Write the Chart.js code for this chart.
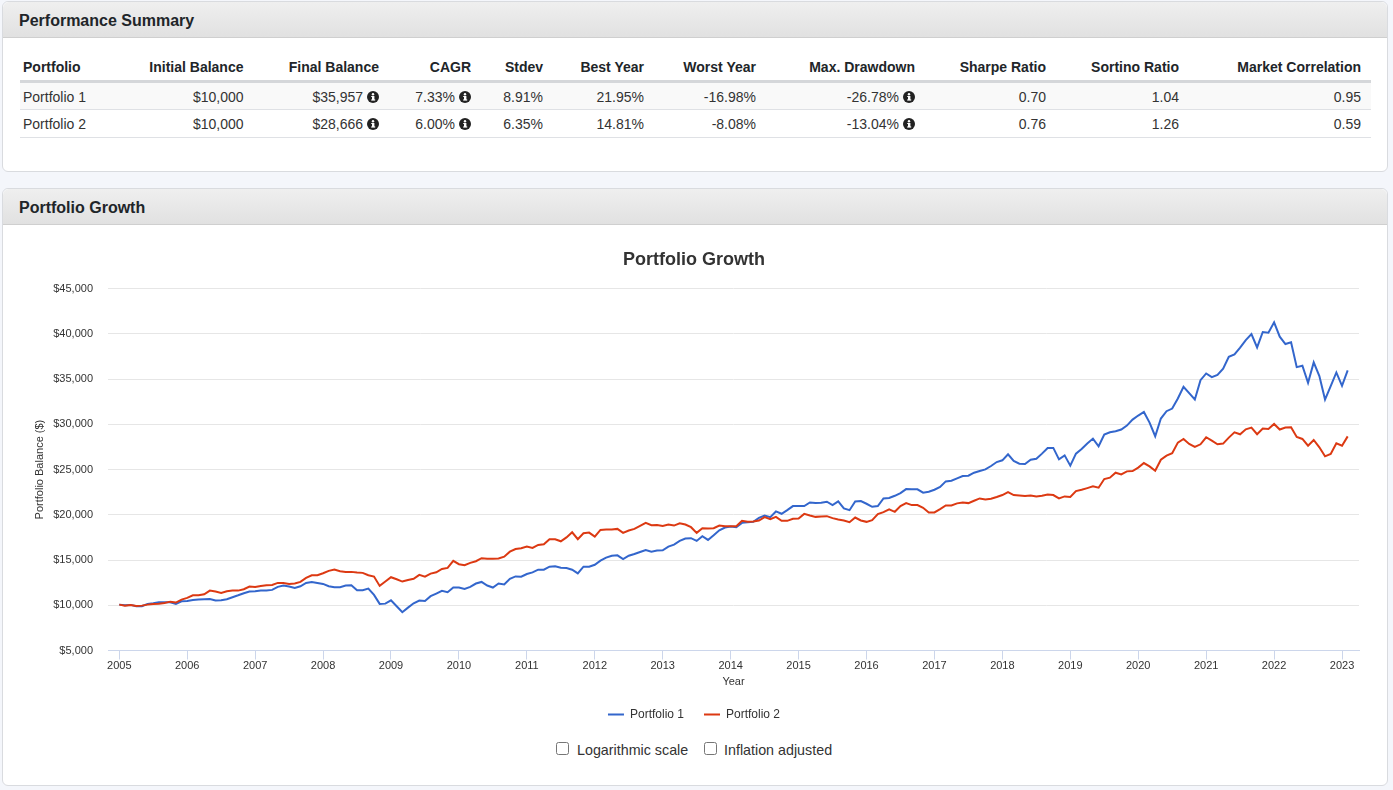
<!DOCTYPE html>
<html>
<head>
<meta charset="utf-8">
<title>Portfolio Growth</title>
<script src="https://cdn.jsdelivr.net/npm/chart.js@4"></script>
<style>
  html, body { margin: 0; padding: 0; background: #f4f6fb; font-family: "Liberation Sans", Arial, sans-serif; color: #212529; overflow: hidden; }
  .panel { position: absolute; left: 2px; width: 1384px; background: #fff; border: 1px solid #d9dbdf; border-radius: 6px; box-sizing: content-box; }
  .panel h2 { margin: 0; height: 35px; line-height: 38px; padding-left: 16px; font-size: 16px; font-weight: bold; background: linear-gradient(#efefef, #e1e1e1); border-bottom: 1px solid #cfcfcf; border-radius: 6px 6px 0 0; }
  #summary { top: 1px; height: 169px; }
  #growth { top: 188px; height: 596px; }
  table { position: absolute; left: 17px; top: 43px; width: 1351px; border-collapse: collapse; table-layout: fixed; font-size: 14px; }
  th, td { padding: 0 10px; text-align: right; white-space: nowrap; }
  th:first-child, td:first-child { text-align: left; padding-left: 3px; }
  th { height: 36px; font-weight: bold; vertical-align: bottom; padding-bottom: 5px; box-sizing: border-box; border-bottom: 3px solid #d5d7da; }
  td { height: 28px; padding-top: 2px; box-sizing: border-box; border-bottom: 1px solid #dfe1e5; color: #333; }
  tbody tr:first-child td { height: 28px; }
  tbody tr:first-child { background: #f9f9f9; }
  svg.info { width: 12px; height: 12px; margin-left: 4px; vertical-align: -1px; }
  #chart { position: absolute; left: 0; top: 36px; }
  .options { position: absolute; top: 742px; left: 0; }
  label { position: absolute; top: 0; font-size: 14.3px; line-height: 16px; white-space: nowrap; color: #333; }
  label input { position: absolute; left: 0; top: 0; margin: 0; width: 13px; height: 13px; }
  label span { position: absolute; top: 0; }
</style>
</head>
<body>
<div class="panel" id="summary">
  <h2>Performance Summary</h2>
  <table id="stats"></table>
</div>
<div class="panel" id="growth">
  <h2>Portfolio Growth</h2>
  <canvas id="chart" width="1384" height="510"></canvas>
</div>
<div class="options">
  <label style="left:556px"><input type="checkbox"><span style="left:21px">Logarithmic scale</span></label>
  <label style="left:704px"><input type="checkbox"><span style="left:20px">Inflation adjusted</span></label>
</div>
<script>
// Summary table
const tableHeaders = ["Portfolio", "Initial Balance", "Final Balance", "CAGR", "Stdev", "Best Year", "Worst Year", "Max. Drawdown", "Sharpe Ratio", "Sortino Ratio", "Market Correlation"];
const rowPortfolio1 = ["Portfolio 1", "$10,000", "$35,957", "7.33%", "8.91%", "21.95%", "-16.98%", "-26.78%", "0.70", "1.04", "0.95"];
const rowPortfolio2 = ["Portfolio 2", "$10,000", "$28,666", "6.00%", "6.35%", "14.81%", "-8.08%", "-13.04%", "0.76", "1.26", "0.59"];
const columnsWithInfo = [2, 3, 7];
const columnWidths = [100, 133.5, 135.5, 92, 72, 101, 112, 159, 131, 133, 182];

// Chart data, monthly from January 2005
const startYear = 2005;
const yearTicks = [2005, 2006, 2007, 2008, 2009, 2010, 2011, 2012, 2013, 2014, 2015, 2016, 2017, 2018, 2019, 2020, 2021, 2022, 2023];
const balanceTicks = [5000, 10000, 15000, 20000, 25000, 30000, 35000, 40000, 45000];

const portfolio1 = [
  10070, 10000, 10040, 9890, 9890, 10150, 10220, 10330, 10330, 10330, 10150, 10440,
  10480, 10590, 10630, 10660, 10700, 10520, 10550, 10660, 10890, 11100, 11330, 11510,
  11550, 11620, 11620, 11700, 12030, 12180, 12070, 11920, 12100, 12470, 12580, 12470,
  12360, 12100, 11990, 11990, 12180, 12210, 11660, 11660, 11850, 11140, 10150, 10180,
  10550, 9890, 9230, 9740, 10220, 10520, 10480, 11000, 11290, 11590, 11440, 11960,
  11960, 11810, 12030, 12400, 12580, 12180, 11960, 12400, 12300, 12930, 13190, 13150,
  13450, 13630, 13930, 13930, 14260, 14300, 14150, 14110, 13930, 13520, 14260, 14260,
  14480, 14930, 15260, 15480, 15520, 15110, 15480, 15670, 15890, 16110, 15930, 16040,
  16070, 16480, 16700, 17110, 17370, 17410, 17110, 17630, 17220, 17740, 18290, 18590,
  18700, 18630, 19110, 19180, 19220, 19660, 19920, 19740, 20370, 20110, 20510, 20960,
  20960, 20960, 21360, 21290, 21330, 21440, 21070, 21480, 20700, 20510, 21480, 21510,
  21220, 20880, 20960, 21800, 21850, 22100, 22400, 22840, 22810, 22810, 22440, 22550,
  22770, 23070, 23690, 23770, 24030, 24280, 24320, 24650, 24840, 25020, 25390, 25830,
  26020, 26680, 25950, 25650, 25610, 26090, 26200, 26760, 27390, 27390, 26130, 26570,
  25430, 26760, 27280, 27870, 28420, 27570, 28860, 29120, 29230, 29420, 29860, 30520,
  30970, 31370, 30190, 28680, 30640, 31450, 31740, 32850, 34140, 33440, 32740, 34880,
  35620, 35220, 35470, 36140, 37470, 37730, 38470, 39310, 39980, 38500, 40200, 40130,
  41270, 39680, 38870, 39060, 36320, 36470, 34590, 36840, 35330, 32740, 34220, 35730,
  34250, 35957
];
const portfolio2 = [
  10070, 9960, 10040, 9930, 9960, 10070, 10150, 10180, 10260, 10400, 10300, 10630,
  10810, 11100, 11100, 11220, 11620, 11510, 11370, 11550, 11620, 11620, 11770, 12070,
  12030, 12140, 12210, 12250, 12470, 12470, 12360, 12400, 12580, 13030, 13320, 13320,
  13540, 13800, 13950, 13760, 13690, 13690, 13620, 13580, 13320, 13170, 12140, 12620,
  13100, 12880, 12620, 12800, 12920, 13360, 13170, 13500, 13650, 14020, 14130, 14910,
  14540, 14430, 14690, 14870, 15200, 15130, 15130, 15170, 15370, 15925, 16220, 16300,
  16480, 16330, 16665, 16740, 17300, 17300, 17070, 17500, 18070, 17300, 17960, 18030,
  17590, 18330, 18370, 18370, 18440, 18000, 18260, 18440, 18770, 19100, 18850, 18880,
  18770, 18920, 18810, 19070, 18920, 18630, 18000, 18520, 18480, 18520, 18810, 18740,
  18740, 18740, 19330, 19220, 19250, 19370, 19740, 19510, 19770, 19330, 19330, 19550,
  19590, 20100, 19920, 19770, 19810, 19850, 19630, 19480, 19370, 19180, 19700, 19370,
  19220, 19400, 20070, 20290, 20590, 20330, 20960, 21290, 21070, 21070, 20780, 20260,
  20260, 20630, 21030, 21030, 21260, 21370, 21290, 21550, 21810, 21700, 21770, 21960,
  22180, 22510, 22180, 22140, 22070, 22140, 22030, 22100, 22250, 22180, 21810, 22030,
  21960, 22620, 22770, 22950, 23140, 22990, 23950, 24100, 24650, 24470, 24800, 24840,
  25210, 25720, 25350, 24870, 26090, 26540, 26800, 27980, 28380, 27830, 27500, 27790,
  28570, 28200, 27790, 27870, 28530, 29120, 28900, 29450, 29640, 28900, 29530, 29490,
  30040, 29420, 29640, 29680, 28600, 28380, 27640, 28270, 27460, 26460, 26720, 27900,
  27640, 28666
];

// Table
const infoIcon = '<svg class="info" viewBox="0 0 12 12"><circle cx="6" cy="6" r="6" fill="#222"/><rect x="5" y="5" width="2.4" height="4" fill="#fff"/><rect x="4.2" y="8.4" width="4" height="1.2" fill="#fff"/><rect x="4.2" y="5" width="2" height="1" fill="#fff"/><circle cx="6" cy="3.2" r="1.2" fill="#fff"/></svg>';

const makeRow = (row, tag) => "<tr>" + row.map((text, i) => {
  const icon = tag === "td" && columnsWithInfo.includes(i) ? infoIcon : "";
  return "<" + tag + ">" + text + icon + "</" + tag + ">";
}).join("") + "</tr>";

document.getElementById("stats").innerHTML =
  "<colgroup>" + columnWidths.map((w) => '<col style="width:' + w + 'px">').join("") + "</colgroup>" +
  "<thead>" + makeRow(tableHeaders, "th") + "</thead>" +
  "<tbody>" + makeRow(rowPortfolio1, "td") + makeRow(rowPortfolio2, "td") + "</tbody>";

// Chart
const toPoints = (values) => values.map((v, i) => ({ x: startYear + i / 12, y: v }));
const tickFont = { family: "'Liberation Sans'", size: 11 };

Chart.defaults.animation = false;

const chartGraph = new Chart(document.getElementById("chart"), {
  type: "line",
  data: {
    datasets: [
      { label: "Portfolio 1", data: toPoints(portfolio1), borderColor: "#3366cc", backgroundColor: "#3366cc", borderWidth: 2, pointRadius: 0, tension: 0, order: 2 },
      { label: "Portfolio 2", data: toPoints(portfolio2), borderColor: "#dc3912", backgroundColor: "#dc3912", borderWidth: 2, pointRadius: 0, tension: 0, order: 1 },
    ],
  },
  options: {
    responsive: false,
    layout: { padding: { left: 26, right: 28, top: 0, bottom: 4.5 } },
    plugins: {
      title: {
        display: true,
        text: "Portfolio Growth",
        color: "#333333",
        font: { family: "'Liberation Sans'", size: 18, weight: "bold" },
        padding: { top: 24.5, bottom: 17.5 },
      },
      legend: {
        position: "bottom",
        labels: {
          usePointStyle: true,
          pointStyle: "line",
          pointStyleWidth: 16,
          boxHeight: 12,
          padding: 20,
          color: "#333333",
          font: { family: "'Liberation Sans'", size: 12 },
          sort: (a, b) => a.datasetIndex - b.datasetIndex,
        },
      },
      tooltip: { enabled: false },
    },
    scales: {
      x: {
        type: "linear",
        min: 2004.834,
        max: 2023.25,
        afterBuildTicks: (scale) => { scale.ticks = yearTicks.map((v) => ({ value: v })); },
        afterFit: (scale) => { scale.height = 38; },
        ticks: { color: "#333333", font: tickFont, maxRotation: 0, autoSkip: false, padding: 0, callback: (v) => String(v) },
        grid: { drawOnChartArea: false, drawTicks: true, tickColor: "#ccd6eb", tickLength: 9 },
        border: { color: "#ccd6eb" },
        title: { display: true, text: "Year", color: "#333333", font: tickFont, padding: { top: 3, bottom: 0 } },
      },
      y: {
        min: 5000,
        max: 45000,
        afterBuildTicks: (scale) => { scale.ticks = balanceTicks.map((v) => ({ value: v })); },
        afterFit: (scale) => { scale.width = 79; },
        ticks: { color: "#333333", font: tickFont, padding: 15, callback: (v) => "$" + v.toLocaleString("en-US") },
        grid: { color: "#e6e6e6", drawTicks: false },
        border: { display: false },
        title: { display: true, text: "Portfolio Balance ($)", color: "#333333", font: tickFont, padding: { top: 4, bottom: 0 } },
      },
    },
  },
});
</script>
</body>
</html>
